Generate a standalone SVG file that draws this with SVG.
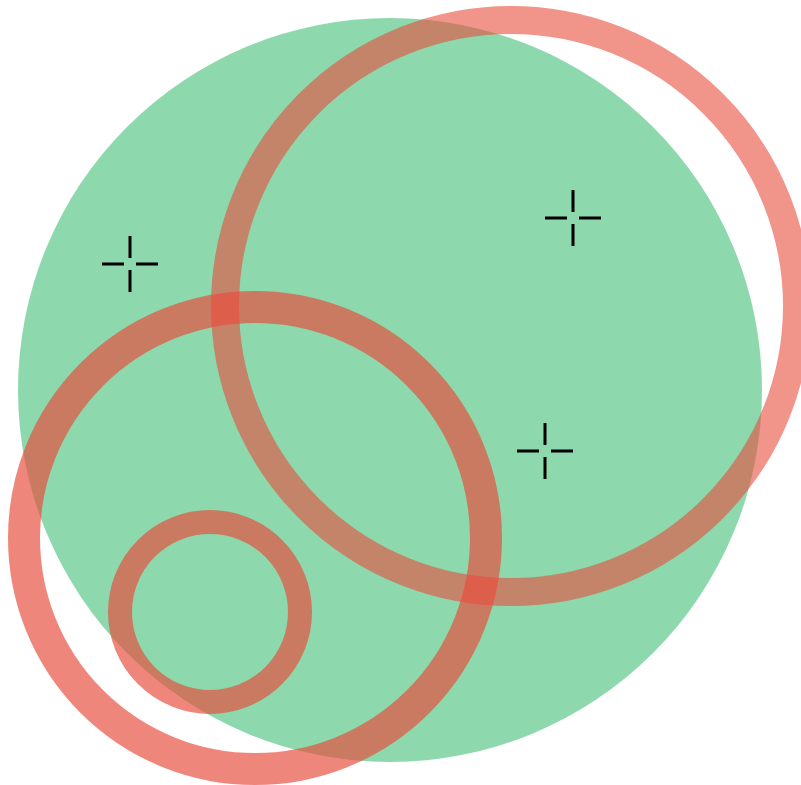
<svg xmlns="http://www.w3.org/2000/svg" width="801" height="785" viewBox="0 0 801 785">
<style>
.ring{fill:none;stroke:#e74c3c}
.cross{stroke:#000;stroke-width:3;fill:none}
</style>
<defs>
<g id="cross"><path class="cross" d="M0,-28V-6M0,6V28M-28,0H-6M6,0H28"/></g>
</defs>
<rect width="801" height="785" fill="#fff"/>
<g id="disc"><circle cx="390" cy="390" r="372" fill="#27b562" opacity="0.53"/></g>
<g id="ring-large"><circle class="ring" cx="511" cy="306" r="286" stroke-width="28" opacity="0.6"/></g>
<g id="ring-medium"><circle class="ring" cx="255" cy="538" r="231" stroke-width="32" opacity="0.68"/></g>
<g id="ring-small"><circle class="ring" cx="210" cy="612" r="90" stroke-width="24" opacity="0.68"/></g>
<g id="marks">
<use href="#cross" x="130" y="264"/>
<use href="#cross" x="573" y="218"/>
<use href="#cross" x="545" y="451"/>
</g>
</svg>
